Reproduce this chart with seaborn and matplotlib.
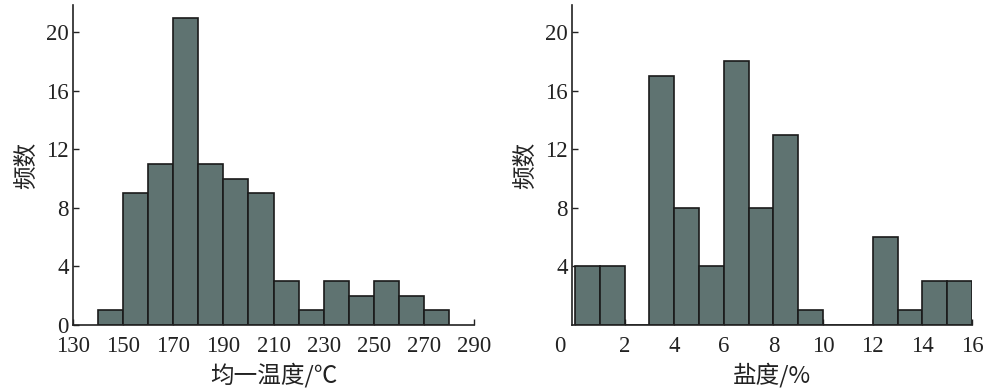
import matplotlib.pyplot as plt
import matplotlib.transforms as mtransforms
import numpy as np
import seaborn as sns

# Histogram data
temp_edges = [140, 150, 160, 170, 180, 190, 200, 210, 220, 230, 240, 250, 260, 270, 280]
temp_counts = [1, 9, 11, 21, 11, 10, 9, 3, 1, 3, 2, 3, 2, 1]

salt_edges = [0, 1, 2, 3, 4, 5, 6, 7, 8, 9, 10, 11, 12, 13, 14, 15, 16]
salt_counts = [4, 4, 0, 17, 8, 4, 18, 8, 13, 1, 0, 0, 6, 1, 3, 3]

temp_ticks = [130, 150, 170, 190, 210, 230, 250, 270, 290]
salt_ticks = [0, 2, 4, 6, 8, 10, 12, 14, 16]

sns.set_style('white')
plt.rcParams['font.family'] = ['Liberation Serif', 'Noto Sans CJK SC']

bar_color = '#5f7371'
cjk = ['Noto Sans CJK SC', 'Liberation Serif']

fig = plt.figure(figsize=(10, 3.92), dpi=100)
ax1 = fig.add_axes([0.073, 0.171, 0.401, 0.816])
ax2 = fig.add_axes([0.572, 0.171, 0.400, 0.816])

def centers(edges):
    e = np.asarray(edges, dtype=float)
    return (e[:-1] + e[1:]) / 2

sns.histplot(x=centers(temp_edges), weights=temp_counts, bins=temp_edges, ax=ax1,
             color=bar_color, alpha=1, edgecolor='#1a1a1a', linewidth=1.2)
sns.histplot(x=centers(salt_edges), weights=salt_counts, bins=salt_edges, ax=ax2,
             color=bar_color, alpha=1, edgecolor='#1a1a1a', linewidth=1.2)

ax1.set_xlim(130, 290)
ax1.set_ylim(0, 21.85)
ax1.set_xticks(temp_ticks)
ax1.set_yticks([0, 4, 8, 12, 16, 20])

ax2.set_xlim(-0.12, 16)
ax2.set_ylim(0, 21.85)
ax2.set_xticks(salt_ticks)
ax2.set_yticks([4, 8, 12, 16, 20])

for ax, xl in [(ax1, '均一温度/℃'), (ax2, '盐度/%')]:
    for s in ['top', 'right']:
        ax.spines[s].set_visible(False)
    for s in ['left', 'bottom']:
        ax.spines[s].set_color('#222222')
        ax.spines[s].set_linewidth(1.2)
    ax.tick_params(direction='in', length=4, width=1, colors='#222222',
                   labelsize=16.5, left=True, bottom=True)
    ax.tick_params(axis='x', pad=8)
    ax.tick_params(axis='y', pad=3)
    ax.set_xlabel(xl, family=cjk, fontsize=17, color='#222222', labelpad=4)
    ax.set_ylabel('频数', family=cjk, fontsize=17, color='#222222', labelpad=6)

# the "0" on the right chart sits left of the origin in the reference
zero = ax2.get_xticklabels()[0]
zero.set_transform(zero.get_transform() +
                   mtransforms.ScaledTranslation(-0.15, 0, fig.dpi_scale_trans))

fig.savefig('out.png', dpi=100)
